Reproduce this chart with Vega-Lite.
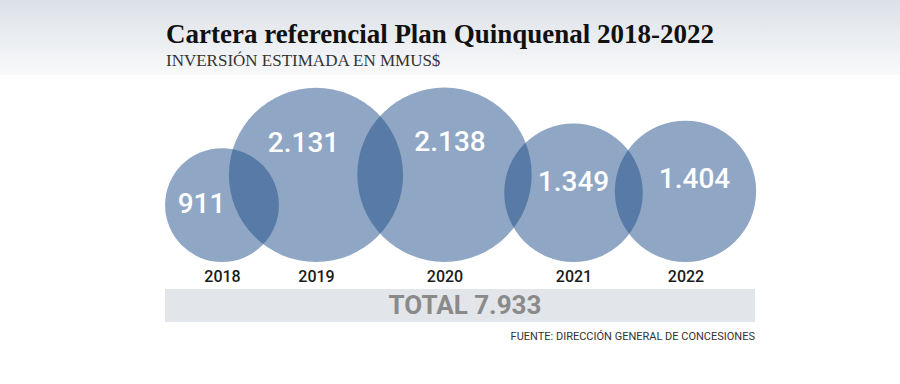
{
  "$schema": "https://vega.github.io/schema/vega-lite/v6.json",
  "padding": 0,
  "background": "#ffffff",
  "spacing": 27,
  "bounds": "flush",
  "config": {
    "view": {"stroke": null},
    "locale": {"number": {"decimal": ",", "thousands": ".", "grouping": [3], "currency": ["$", ""]}}
  },
  "datasets": {
    "inversion": [
      {"year": 2018, "value": 911},
      {"year": 2019, "value": 2131},
      {"year": 2020, "value": 2138},
      {"year": 2021, "value": 1349},
      {"year": 2022, "value": 1404}
    ],
    "total": [{"label": "TOTAL 7.933", "total": 7933}],
    "header": [{"band": "header"}]
  },
  "vconcat": [
    {
      "width": 900,
      "height": 75,
      "data": {"name": "header"},
      "mark": {
        "type": "rect",
        "fill": {"gradient": "linear", "x1": 0, "y1": 0, "x2": 0, "y2": 1,
          "stops": [{"offset": 0, "color": "#dce1e7"}, {"offset": 1, "color": "#f8f9fa"}]}
      },
      "encoding": {
        "x": {"field": "band", "type": "nominal", "scale": {"paddingInner": 0, "paddingOuter": 0}, "axis": null},
        "y": {"field": "band", "type": "nominal", "scale": {"paddingInner": 0, "paddingOuter": 0}, "axis": null}
      }
    },
    {
      "width": 900,
      "height": 160,
      "title": {
        "text": "Cartera referencial Plan Quinquenal 2018-2022",
        "subtitle": "INVERSIÓN ESTIMADA EN MMUS$",
        "anchor": "start",
        "frame": "group",
        "orient": "top",
        "dx": 166,
        "offset": 18,
        "font": "Liberation Serif",
        "fontSize": 27,
        "fontWeight": "bold",
        "color": "#111111",
        "subtitleFont": "Liberation Serif",
        "subtitleFontSize": 17,
        "subtitleColor": "#333333",
        "subtitlePadding": 4
      },
      "data": {"name": "inversion"},
      "layer": [
        {
          "mark": {"type": "circle", "color": "#1f4d89", "opacity": 0.5},
          "encoding": {
            "x": {
              "field": "year", "type": "quantitative",
              "scale": {"type": "linear", "domain": [2018, 2019, 2020, 2021, 2022], "range": [222, 316, 444.5, 573.5, 685.5], "zero": false, "nice": false},
              "axis": {
                "values": [2018, 2019, 2020, 2021, 2022], "format": "d", "title": null,
                "domain": false, "ticks": false, "grid": false, "labelFlush": false, "labelOverlap": false, "labelBound": false,
                "labelFont": "Roboto", "labelFontSize": 16, "labelFontWeight": 500, "labelColor": "#1a1a1a", "labelPadding": 6
              }
            },
            "y": {
              "field": "value", "type": "quantitative",
              "scale": {"type": "sqrt", "domain": [0, 2138], "range": [160, 72.8], "zero": false, "nice": false},
              "axis": null
            },
            "size": {
              "field": "value", "type": "quantitative",
              "scale": {"type": "linear", "domain": [0, 2138], "range": [0, 30415], "zero": false, "nice": false},
              "legend": null
            }
          }
        },
        {
          "mark": {"type": "text", "color": "#ffffff", "font": "Roboto", "fontSize": 28, "fontWeight": 500, "align": "center", "baseline": "middle"},
          "encoding": {
            "x": {
              "field": "year", "type": "quantitative",
              "scale": {"type": "linear", "domain": [2018, 2019, 2020, 2021, 2022], "range": [201.5, 303.5, 450, 573.5, 694.5], "zero": false, "nice": false},
              "axis": null
            },
            "y": {
              "field": "value", "type": "quantitative",
              "scale": {"type": "linear", "domain": [911, 2131], "range": [103, 41.5], "zero": false, "nice": false},
              "axis": null
            },
            "text": {"field": "value", "type": "quantitative", "format": ",d"}
          }
        }
      ],
      "resolve": {"scale": {"x": "independent", "y": "independent"}}
    },
    {
      "width": 900,
      "height": 33,
      "title": {
        "text": "FUENTE: DIRECCIÓN GENERAL DE CONCESIONES",
        "anchor": "end",
        "frame": "group",
        "orient": "bottom",
        "dx": -145,
        "offset": 9,
        "font": "Roboto",
        "fontSize": 11,
        "fontWeight": "normal",
        "color": "#333333"
      },
      "data": {"name": "total"},
      "encoding": {
        "y": {"field": "label", "type": "nominal", "scale": {"paddingInner": 0, "paddingOuter": 0}, "axis": null}
      },
      "layer": [
        {
          "mark": {"type": "bar", "color": "#e2e5e9"},
          "encoding": {
            "x": {"field": "total", "type": "quantitative", "scale": {"domain": [0, 7933], "range": [165, 755], "zero": true, "nice": false}, "axis": null}
          }
        },
        {
          "mark": {"type": "text", "color": "#8a8a8a", "font": "Roboto", "fontSize": 26, "fontWeight": "bold", "align": "center", "baseline": "middle"},
          "encoding": {
            "x": {"field": "total", "type": "quantitative", "scale": {"domain": [0, 7933], "range": [0, 465], "zero": false, "nice": false}, "axis": null},
            "text": {"field": "label", "type": "nominal"}
          }
        }
      ],
      "resolve": {"scale": {"x": "independent"}}
    }
  ]
}
